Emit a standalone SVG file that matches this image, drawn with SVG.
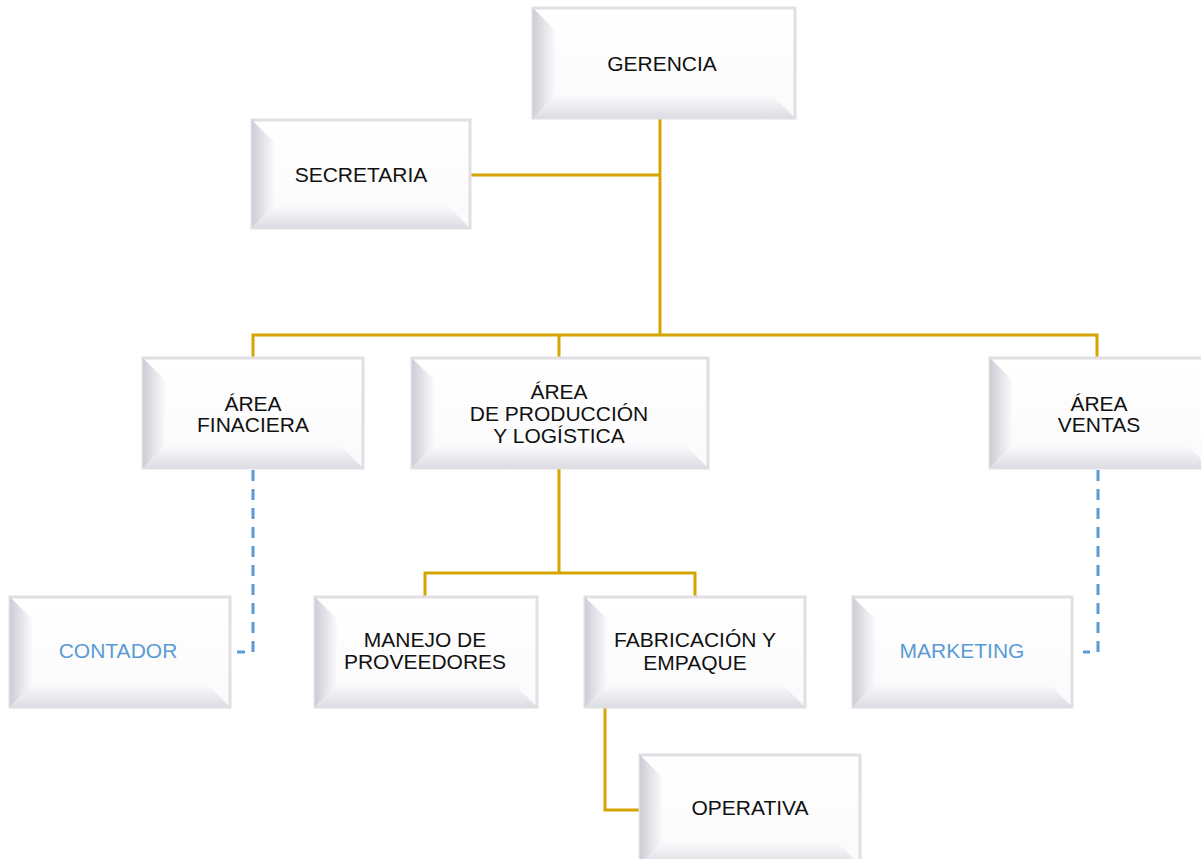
<svg xmlns="http://www.w3.org/2000/svg" width="1201" height="859" viewBox="0 0 1201 859">
<defs>
<linearGradient id="gl" x1="0" y1="0" x2="1" y2="0">
<stop offset="0" stop-color="#cdcdd6"/>
<stop offset="1" stop-color="#fafafc"/>
</linearGradient>
<linearGradient id="gb" x1="0" y1="0" x2="0" y2="1">
<stop offset="0" stop-color="#fafafc"/>
<stop offset="1" stop-color="#dcdce3"/>
</linearGradient>
<linearGradient id="gf" x1="0" y1="0" x2="0" y2="1">
<stop offset="0" stop-color="#ffffff"/>
<stop offset="1" stop-color="#fafafc"/>
</linearGradient>
</defs>
<style>
.frame{fill:url(#gf);stroke:#e0e0e4;stroke-width:3}
.bl{fill:url(#gl)}
.bb{fill:url(#gb)}
.t{font-family:"Liberation Sans",Arial,sans-serif;font-size:21px;fill:#111;text-anchor:middle}
.tb{fill:#5b9bd5}
.gold{fill:none;stroke:#d6a400;stroke-width:3}
.dash{fill:none;stroke:#5b9bd5;stroke-width:3;stroke-dasharray:11 8}
</style>
<rect width="1201" height="859" fill="#fff"/>
<g id="connectors">
<path class="gold" d="M660,118 V335"/>
<path class="gold" d="M470,175 H660"/>
<path class="gold" d="M253,358 V335 H1097 V358"/>
<path class="gold" d="M559,335 V358"/>
<path class="gold" d="M559,468 V573"/>
<path class="gold" d="M425,597 V573 H695 V597"/>
<path class="gold" d="M605,707 V810 H640"/>
<path class="dash" d="M253,470 V652 H237"/>
<path class="dash" d="M1098,470 V652 H1083"/>
</g>
<g id="gerencia">
<rect class="frame" x="533" y="8" width="262" height="110"/>
<polygon class="bl" points="533,8 555,30 555,96 533,118"/>
<polygon class="bb" points="533,118 555,96 773,96 795,118"/>
<text class="t" x="662" y="71">GERENCIA</text>
</g>
<g id="secretaria">
<rect class="frame" x="252" y="120" width="218" height="108"/>
<polygon class="bl" points="252,120 274,142 274,206 252,228"/>
<polygon class="bb" points="252,228 274,206 448,206 470,228"/>
<text class="t" x="361" y="182">SECRETARIA</text>
</g>
<g id="finaciera">
<rect class="frame" x="143" y="358" width="220" height="110"/>
<polygon class="bl" points="143,358 165,380 165,446 143,468"/>
<polygon class="bb" points="143,468 165,446 341,446 363,468"/>
<text class="t" x="253" y="411">ÁREA</text>
<text class="t" x="253" y="432">FINACIERA</text>
</g>
<g id="produccion">
<rect class="frame" x="412" y="358" width="296" height="110"/>
<polygon class="bl" points="412,358 434,380 434,446 412,468"/>
<polygon class="bb" points="412,468 434,446 686,446 708,468"/>
<text class="t" x="559" y="399">ÁREA</text>
<text class="t" x="559" y="421">DE PRODUCCIÓN</text>
<text class="t" x="559" y="443">Y LOGÍSTICA</text>
</g>
<g id="ventas">
<rect class="frame" x="990" y="358" width="220" height="110"/>
<polygon class="bl" points="990,358 1012,380 1012,446 990,468"/>
<polygon class="bb" points="990,468 1012,446 1188,446 1210,468"/>
<text class="t" x="1099" y="411">ÁREA</text>
<text class="t" x="1099" y="432">VENTAS</text>
</g>
<g id="contador">
<rect class="frame" x="10" y="597" width="220" height="110"/>
<polygon class="bl" points="10,597 32,619 32,685 10,707"/>
<polygon class="bb" points="10,707 32,685 208,685 230,707"/>
<text class="t tb" x="118" y="658">CONTADOR</text>
</g>
<g id="manejo">
<rect class="frame" x="315" y="597" width="222" height="110"/>
<polygon class="bl" points="315,597 337,619 337,685 315,707"/>
<polygon class="bb" points="315,707 337,685 515,685 537,707"/>
<text class="t" x="425" y="647">MANEJO DE</text>
<text class="t" x="425" y="669">PROVEEDORES</text>
</g>
<g id="fabricacion">
<rect class="frame" x="585" y="597" width="220" height="110"/>
<polygon class="bl" points="585,597 607,619 607,685 585,707"/>
<polygon class="bb" points="585,707 607,685 783,685 805,707"/>
<text class="t" x="695" y="647">FABRICACIÓN Y</text>
<text class="t" x="695" y="670">EMPAQUE</text>
</g>
<g id="marketing">
<rect class="frame" x="853" y="597" width="219" height="110"/>
<polygon class="bl" points="853,597 875,619 875,685 853,707"/>
<polygon class="bb" points="853,707 875,685 1050,685 1072,707"/>
<text class="t tb" x="962" y="658">MARKETING</text>
</g>
<g id="operativa">
<rect class="frame" x="640" y="755" width="220" height="110"/>
<polygon class="bl" points="640,755 662,777 662,843 640,865"/>
<polygon class="bb" points="640,865 662,843 838,843 860,865"/>
<text class="t" x="750" y="815">OPERATIVA</text>
</g>
</svg>
